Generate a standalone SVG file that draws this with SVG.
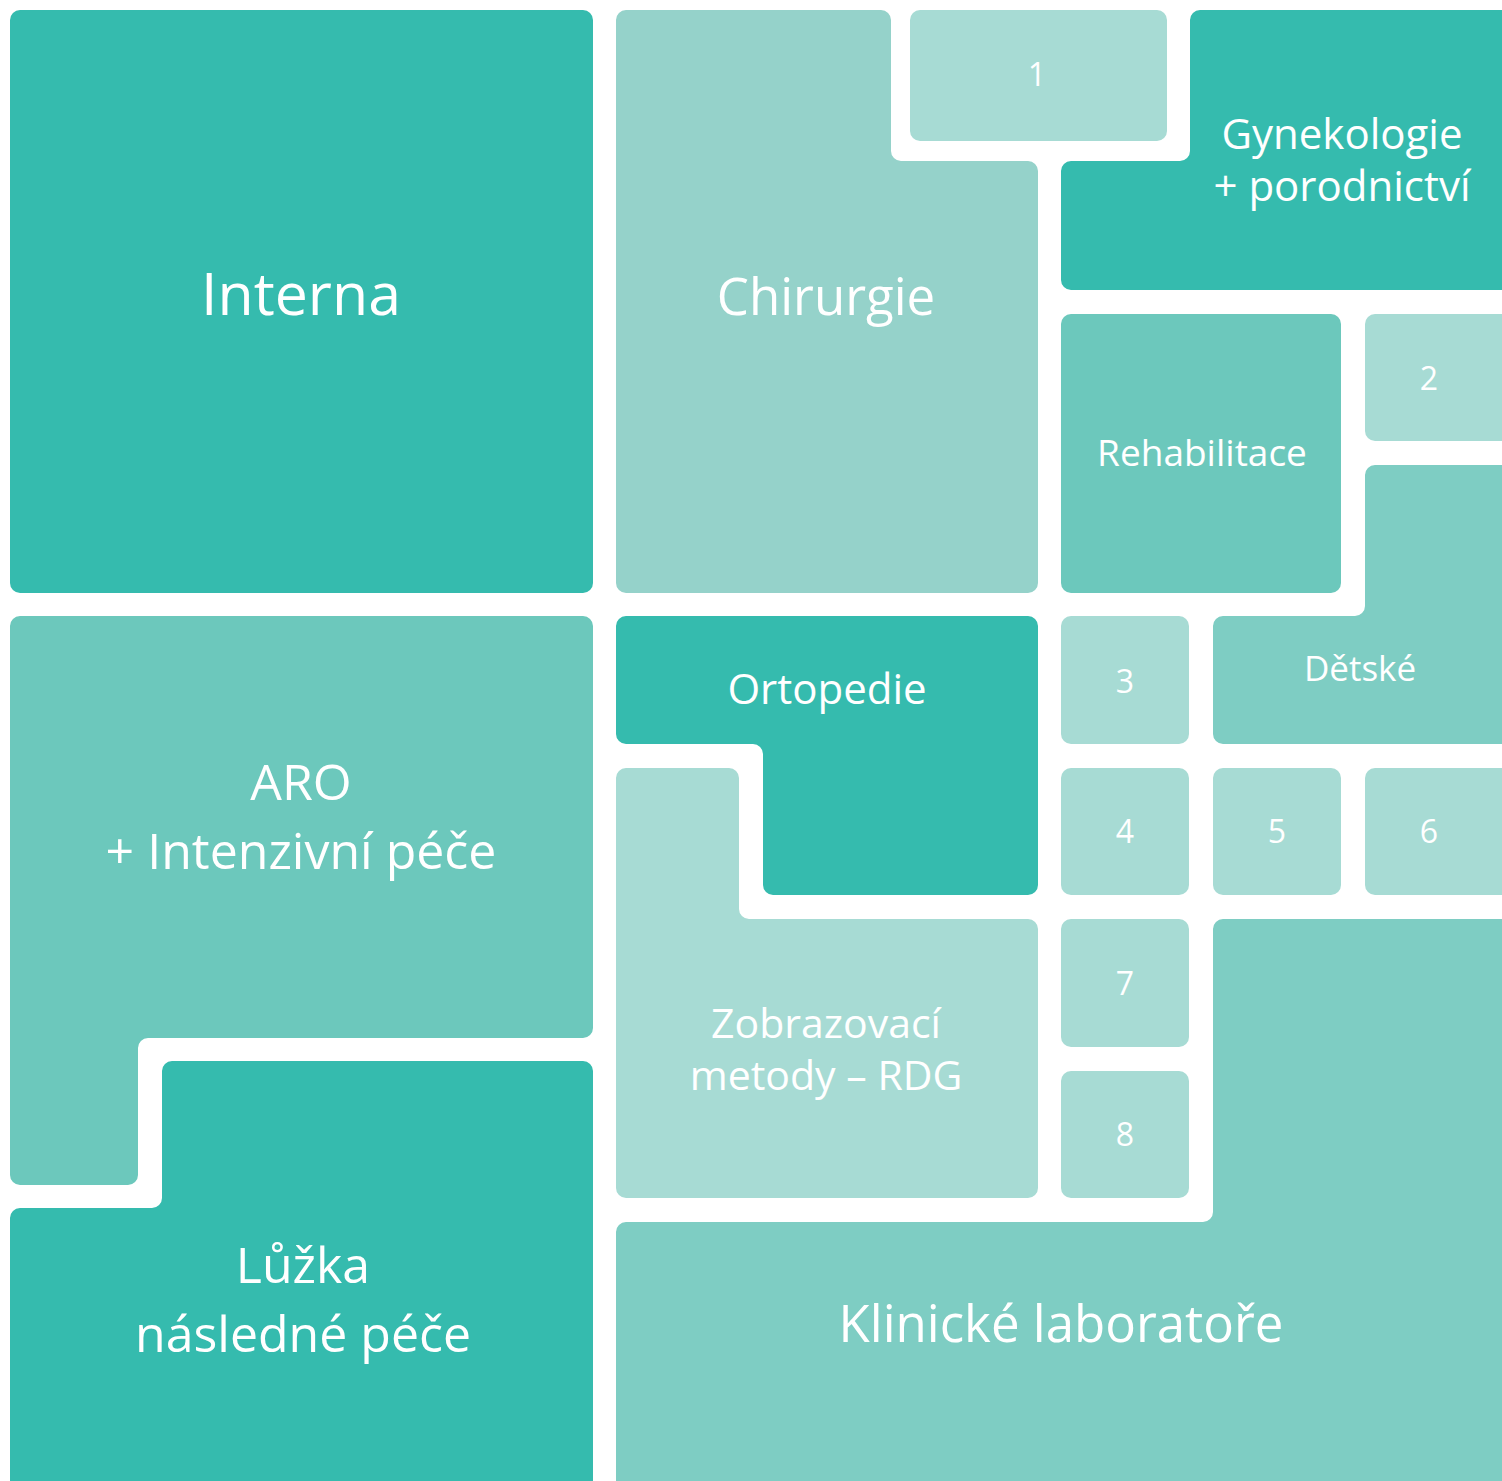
<svg xmlns="http://www.w3.org/2000/svg" width="1502" height="1481" viewBox="0 0 1502 1481">
<style>
text{font-family:"Open Sans","Noto Sans","DejaVu Sans",sans-serif;fill:#ffffff;text-anchor:middle}
.c1{fill:#35bbae}.c2{fill:#95d2ca}.c3{fill:#a7dbd4}.c4{fill:#6cc8bc}.c5{fill:#7ecdc3}
</style>
<rect width="1502" height="1481" fill="#ffffff"/>
<g id="interna"><rect class="c1" x="10" y="10" width="583" height="583" rx="10"/><text x="301" y="315" font-size="59">Interna</text></g>
<g id="chirurgie"><path class="c2" d="M626,10 H881 A10 10 0 0 1 891,20 V151 A10 10 0 0 0 901,161 H1028 A10 10 0 0 1 1038,171 V583 A10 10 0 0 1 1028,593 H626 A10 10 0 0 1 616,583 V20 A10 10 0 0 1 626,10 Z"/><text x="826" y="315" font-size="51">Chirurgie</text></g>
<g id="n1"><rect class="c3" x="910" y="10" width="257" height="131" rx="10"/><text x="1037" y="86" font-size="32">1</text></g>
<g id="gynekologie"><path class="c1" d="M1200,10 H1530 V290 H1071 A10 10 0 0 1 1061,280 V171 A10 10 0 0 1 1071,161 H1180 A10 10 0 0 0 1190,151 V20 A10 10 0 0 1 1200,10 Z"/><text x="1342" y="149" font-size="42">Gynekologie</text><text x="1342" y="201" font-size="42">+ porodnictví</text></g>
<g id="rehabilitace"><rect class="c4" x="1061" y="314" width="280" height="279" rx="10"/><text x="1202" y="466" font-size="37">Rehabilitace</text></g>
<g id="n2"><rect class="c3" x="1365" y="314" width="165" height="127" rx="10"/><text x="1429" y="390" font-size="32">2</text></g>
<g id="detske"><path class="c5" d="M1375,465 H1530 V744 H1223 A10 10 0 0 1 1213,734 V626 A10 10 0 0 1 1223,616 H1355 A10 10 0 0 0 1365,606 V475 A10 10 0 0 1 1375,465 Z"/><text x="1360" y="681" font-size="35">Dětské</text></g>
<g id="aro"><path class="c4" d="M20,616 H583 A10 10 0 0 1 593,626 V1028 A10 10 0 0 1 583,1038 H148 A10 10 0 0 0 138,1048 V1175 A10 10 0 0 1 128,1185 H20 A10 10 0 0 1 10,1175 V626 A10 10 0 0 1 20,616 Z"/><text x="301" y="800" font-size="50">ARO</text><text x="301" y="869" font-size="50">+ Intenzivní péče</text></g>
<g id="ortopedie"><path class="c1" d="M626,616 H1028 A10 10 0 0 1 1038,626 V885 A10 10 0 0 1 1028,895 H773 A10 10 0 0 1 763,885 V754 A10 10 0 0 0 753,744 H626 A10 10 0 0 1 616,734 V626 A10 10 0 0 1 626,616 Z"/><text x="827" y="704" font-size="42">Ortopedie</text></g>
<g id="n3"><rect class="c3" x="1061" y="616" width="128" height="128" rx="10"/><text x="1125" y="693" font-size="32">3</text></g>
<g id="n4"><rect class="c3" x="1061" y="768" width="128" height="127" rx="10"/><text x="1125" y="843" font-size="32">4</text></g>
<g id="n5"><rect class="c3" x="1213" y="768" width="128" height="127" rx="10"/><text x="1277" y="843" font-size="32">5</text></g>
<g id="n6"><rect class="c3" x="1365" y="768" width="165" height="127" rx="10"/><text x="1429" y="843" font-size="32">6</text></g>
<g id="zobrazovaci"><path class="c3" d="M626,768 H729 A10 10 0 0 1 739,778 V909 A10 10 0 0 0 749,919 H1028 A10 10 0 0 1 1038,929 V1188 A10 10 0 0 1 1028,1198 H626 A10 10 0 0 1 616,1188 V778 A10 10 0 0 1 626,768 Z"/><text x="826" y="1038" font-size="41">Zobrazovací</text><text x="826" y="1090" font-size="41">metody – RDG</text></g>
<g id="n7"><rect class="c3" x="1061" y="919" width="128" height="128" rx="10"/><text x="1125" y="995" font-size="32">7</text></g>
<g id="n8"><rect class="c3" x="1061" y="1071" width="128" height="127" rx="10"/><text x="1125" y="1146" font-size="32">8</text></g>
<g id="klinicke"><path class="c5" d="M1223,919 H1530 V1500 H616 V1232 A10 10 0 0 1 626,1222 H1203 A10 10 0 0 0 1213,1212 V929 A10 10 0 0 1 1223,919 Z"/><text x="1061" y="1342" font-size="51">Klinické laboratoře</text></g>
<g id="luzka"><path class="c1" d="M172,1061 H583 A10 10 0 0 1 593,1071 V1500 H10 V1218 A10 10 0 0 1 20,1208 H152 A10 10 0 0 0 162,1198 V1071 A10 10 0 0 1 172,1061 Z"/><text x="303" y="1283" font-size="50">Lůžka</text><text x="303" y="1352" font-size="50">následné péče</text></g>
<g id="connectors"/>
</svg>
